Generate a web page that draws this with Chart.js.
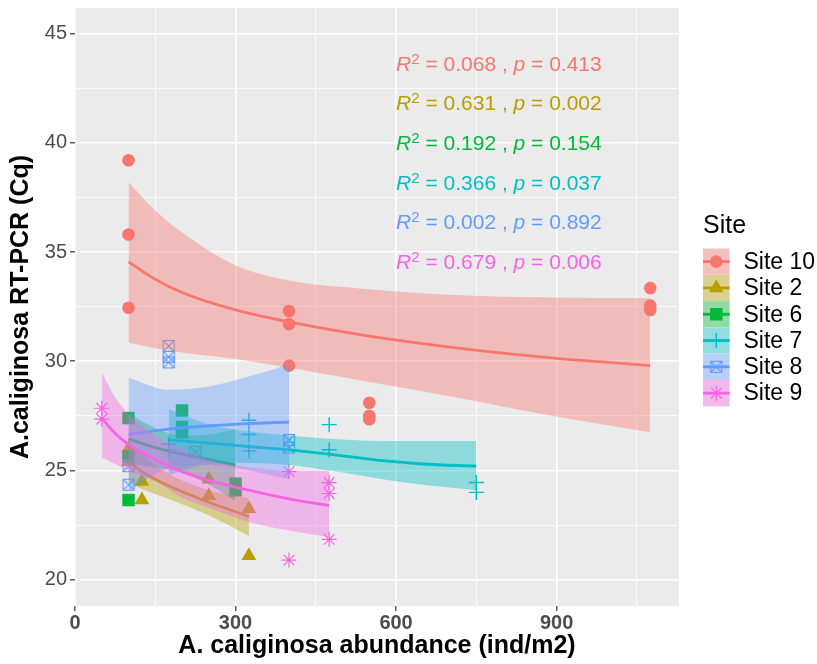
<!DOCTYPE html>
<html><head><meta charset="utf-8">
<script src="https://cdn.jsdelivr.net/npm/chart.js@4.4.1/dist/chart.umd.min.js"></script>
<style>html,body{margin:0;padding:0;background:#fff;}#wrap{width:817px;height:664px;position:relative;}</style>
</head><body><div id="wrap"><canvas id="c"></canvas></div>
<script>
// ---------- categories ----------
const sites = ['Site 10','Site 2','Site 6','Site 7','Site 8','Site 9'];
const siteColors = ['#F8766D','#B79F00','#00BA38','#00BFC4','#619CFF','#F564E3'];

// ---------- ticks ----------
const xMajor = [0,300,600,900];
const xMinor = [150,450,750,1050];
const yMajor = [20,25,30,35,40,45];
const yMinor = [22.5,27.5,32.5,37.5,42.5];

// ---------- observed points ----------
const site10X = [100,100,100,400,400,400,550,550,550,1075,1075,1075];
const site10Y = [39.2,35.8,32.45,32.3,31.7,29.8,28.1,27.5,27.35,33.35,32.55,32.35];
const site2X  = [100,100,125,125,250,250,325,325];
const site2Y  = [26.0,25.4,24.5,23.65,24.6,23.85,23.25,21.1];
const site6X  = [100,100,100,200,200,200,300,300];
const site6Y  = [27.4,25.65,23.65,27.75,27.0,26.75,24.4,24.1];
const site7X  = [175,175,325,325,325,475,475,750,750];
const site7Y  = [26.2,25.95,27.3,26.65,25.9,27.1,25.95,24.45,24.0];
const site8X  = [100,100,175,175,175,225,400,400];
const site8Y  = [25.2,24.35,30.7,30.2,29.95,25.85,26.4,26.05];
const site9X  = [50,50,400,400,475,475,475];
const site9Y  = [27.85,27.35,24.95,20.9,24.45,23.95,21.85];

// ---------- fitted curves ----------
const fit10X  = [100,150,200,300,400,550,700,870,1075];
const fit10Y  = [34.55,33.75,33.15,32.35,31.8,31.15,30.65,30.2,29.8];
const fit10Lo = [30.85,30.6,30.4,30.1,29.7,29.05,28.4,27.6,26.75];
const fit10Hi = [38.2,36.9,35.9,34.4,33.7,33.3,33.05,32.93,32.88];

const fit2X  = [100,125,175,250,325];
const fit2Y  = [25.4,24.95,24.3,23.55,22.9];
const fit2Lo = [24.5,24.15,23.7,22.95,22.0];
const fit2Hi = [26.4,25.75,24.85,24.1,23.75];

const fit6X  = [100,150,200,250,300];
const fit6Y  = [26.45,26.05,25.75,25.5,25.25];
const fit6Lo = [25.3,25.15,24.9,24.35,23.6];
const fit6Hi = [27.6,26.95,26.6,26.65,26.9];

const fit7X  = [175,250,325,400,475,575,650,750];
const fit7Y  = [26.4,26.25,26.1,25.95,25.75,25.45,25.3,25.2];
const fit7Lo = [24.8,25.3,25.35,25.25,25.0,24.6,24.35,24.1];
const fit7Hi = [27.8,27.1,26.8,26.6,26.45,26.35,26.35,26.35];

const fit8X  = [100,175,250,325,400];
const fit8Y  = [26.65,26.9,27.05,27.15,27.22];
const fit8Lo = [24.05,25.1,25.25,25.0,24.6];
const fit8Hi = [29.25,28.7,28.85,29.3,29.85];

const fit9X  = [50,75,100,150,200,250,325,400,475];
const fit9Y  = [27.4,26.7,26.2,25.5,24.95,24.55,24.1,23.7,23.4];
const fit9Lo = [25.6,25.3,25.0,24.5,23.75,23.3,22.65,22.25,21.95];
const fit9Hi = [29.5,28.35,27.6,26.6,26.0,25.5,25.15,25.0,25.0];

// ---------- statistics labels ----------
const statR2 = ['0.068','0.631','0.192','0.366','0.002','0.679'];
const statP  = ['0.413','0.002','0.154','0.037','0.892','0.006'];

// ---------- assemble ----------
const pointX = [site10X,site2X,site6X,site7X,site8X,site9X];
const pointY = [site10Y,site2Y,site6Y,site7Y,site8Y,site9Y];
const fitX  = [fit10X,fit2X,fit6X,fit7X,fit8X,fit9X];
const fitY  = [fit10Y,fit2Y,fit6Y,fit7Y,fit8Y,fit9Y];
const fitLo = [fit10Lo,fit2Lo,fit6Lo,fit7Lo,fit8Lo,fit9Lo];
const fitHi = [fit10Hi,fit2Hi,fit6Hi,fit7Hi,fit8Hi,fit9Hi];

const FONT = "'Liberation Sans', Arial, sans-serif";
Chart.defaults.font.family = FONT;

function rgba(hex, a){
  const n = parseInt(hex.slice(1),16);
  return `rgba(${(n>>16)&255},${(n>>8)&255},${n&255},${a})`;
}
function pts(xs, ys){ return xs.map((x,i)=>({x:x, y:ys[i]})); }

// boxed X marker canvas (shape 7)
function boxX(color){
  const c = document.createElement('canvas'); c.width = 14; c.height = 14;
  const g = c.getContext('2d');
  g.strokeStyle = color; g.lineWidth = 1.1;
  g.strokeRect(1.5,1.5,11,11);
  g.beginPath(); g.moveTo(1.5,1.5); g.lineTo(12.5,12.5); g.moveTo(12.5,1.5); g.lineTo(1.5,12.5); g.stroke();
  return c;
}
const boxXImg = boxX(siteColors[4]);

const shapeStyle  = ['circle','triangle','rect','cross',boxXImg,'star'];
const shapeRadius = [6.3,8.5,8.8,7.5,7,7.5];
const shapeBorder = [0,0,0,1.4,0,1.2];

const datasets = [];
let seq = 0;
sites.forEach((s,i)=>{
  datasets.push({
    type:'scatter', label:s, data: pts(pointX[i], pointY[i]),
    pointStyle: shapeStyle[i], pointRadius: shapeRadius[i], pointHoverRadius: shapeRadius[i],
    backgroundColor: siteColors[i], borderColor: siteColors[i], borderWidth: shapeBorder[i],
    order: 1000 - (seq++)
  });
});
sites.forEach((s,i)=>{
  datasets.push({
    type:'line', label:s+' lo', data: pts(fitX[i], fitLo[i]),
    borderWidth:0, borderColor:'rgba(0,0,0,0)', pointRadius:0, fill:false,
    cubicInterpolationMode:'monotone', order: 1000 - (seq++)
  });
  datasets.push({
    type:'line', label:s+' hi', data: pts(fitX[i], fitHi[i]),
    borderWidth:0, borderColor:'rgba(0,0,0,0)', pointRadius:0, fill:'-1',
    backgroundColor: rgba(siteColors[i],0.4),
    cubicInterpolationMode:'monotone', order: 1000 - (seq++)
  });
  datasets.push({
    type:'line', label:s+' fit', data: pts(fitX[i], fitY[i]),
    borderWidth:2.8, borderColor: siteColors[i], pointRadius:0, fill:false,
    cubicInterpolationMode:'monotone', order: 1000 - (seq++)
  });
});

// ---------- plugins ----------
const panelBg = {
  id:'panelBg',
  beforeDraw(chart){
    const {ctx, chartArea:a} = chart;
    ctx.save(); ctx.fillStyle = '#EBEBEB';
    ctx.fillRect(a.left, a.top, a.right-a.left, a.bottom-a.top);
    ctx.restore();
  }
};

const statText = {
  id:'statText',
  afterDatasetsDraw(chart){
    const {ctx, scales:{x, y}} = chart;
    ctx.save();
    ctx.textBaseline = 'alphabetic'; ctx.textAlign = 'left';
    sites.forEach((s,i)=>{
      let px = x.getPixelForValue(600);
      const py = y.getPixelForValue(43.3 - i*1.813);
      ctx.fillStyle = siteColors[i];
      const parts = [
        ['italic 21px '+FONT,'R',0],
        ['15px '+FONT,'2',-7],
        ['21px '+FONT,' = '+statR2[i]+' , ',0],
        ['italic 21px '+FONT,'p',0],
        ['21px '+FONT,' = '+statP[i],0]
      ];
      parts.forEach(([f,t,dy])=>{
        ctx.font = f; ctx.fillText(t, px, py+dy); px += ctx.measureText(t).width;
      });
    });
    ctx.restore();
  }
};

function drawMarker(ctx, i, cx, cy){
  const col = siteColors[i];
  ctx.save();
  ctx.fillStyle = col; ctx.strokeStyle = col;
  ctx.beginPath();
  if (i===0){ ctx.arc(cx,cy,6.3,0,Math.PI*2); ctx.fill(); }
  else if (i===1){ const r=8.5; for(let k=0;k<3;k++){const a=k*2*Math.PI/3; const X=cx+Math.sin(a)*r, Y=cy-Math.cos(a)*r; k?ctx.lineTo(X,Y):ctx.moveTo(X,Y);} ctx.closePath(); ctx.fill(); }
  else if (i===2){ const h=8.8*Math.SQRT1_2; ctx.fillRect(cx-h,cy-h,2*h,2*h); }
  else if (i===3){ ctx.lineWidth=1.4; ctx.moveTo(cx-7.5,cy); ctx.lineTo(cx+7.5,cy); ctx.moveTo(cx,cy-7.5); ctx.lineTo(cx,cy+7.5); ctx.stroke(); }
  else if (i===4){ ctx.drawImage(boxXImg, cx-7, cy-7); }
  else { ctx.lineWidth=1.2; const r=7.5; for(let k=0;k<4;k++){const a=k*Math.PI/4; ctx.moveTo(cx-Math.cos(a)*r, cy-Math.sin(a)*r); ctx.lineTo(cx+Math.cos(a)*r, cy+Math.sin(a)*r);} ctx.stroke(); }
  ctx.restore();
}

const siteLegend = {
  id:'siteLegend',
  afterDraw(chart){
    const ctx = chart.ctx;
    const left = 703, top = 248.5, kw = 26.6, kh = 26.3;
    ctx.save();
    ctx.fillStyle = '#000'; ctx.font = '25px '+FONT; ctx.textBaseline='alphabetic'; ctx.textAlign='left';
    ctx.fillText('Site', left, 233);
    sites.forEach((s,i)=>{
      const y0 = top + i*kh;
      ctx.fillStyle = '#F2F2F2'; ctx.fillRect(left, y0, kw, kh);
      ctx.fillStyle = rgba(siteColors[i],0.4); ctx.fillRect(left, y0, kw, kh);
      ctx.strokeStyle = siteColors[i]; ctx.lineWidth = 2.8;
      ctx.beginPath(); ctx.moveTo(left, y0+kh/2); ctx.lineTo(left+kw, y0+kh/2); ctx.stroke();
      drawMarker(ctx, i, left+kw/2, y0+kh/2);
      ctx.fillStyle = '#000'; ctx.font = '23px '+FONT; ctx.textBaseline='middle';
      ctx.fillText(s, 743.5, y0+kh/2+1);
    });
    ctx.restore();
  }
};

const isMajorX = v => xMajor.indexOf(v) >= 0;
const isMajorY = v => yMajor.indexOf(v) >= 0;

new Chart(document.getElementById('c'), {
  type:'scatter',
  data:{ datasets },
  plugins:[panelBg, statText, siteLegend],
  options:{
    responsive:true, maintainAspectRatio:false, animation:false, events:[],
    layout:{ padding:{left:0, top:8, right:138, bottom:0}, autoPadding:false },
    plugins:{ legend:{display:false}, tooltip:{enabled:false} },
    scales:{
      x:{
        type:'linear', min:0, max:1128.75,
        afterBuildTicks: s => { s.ticks = xMajor.concat(xMinor).sort((a,b)=>a-b).map(v=>({value:v})); },
        afterFit: s => { s.height = 58; s.paddingLeft = 0; s.paddingRight = 0; },
        ticks:{ callback: v => isMajorX(v) ? String(v) : '', font:{size:20, weight:'bold'}, color:'#4D4D4D', padding:0, maxRotation:0, autoSkip:false },
        grid:{ color:'#FFFFFF', lineWidth: c => (c.tick && isMajorX(c.tick.value)) ? 1.6 : 0.8,
               drawTicks:true, tickLength:5, tickWidth:1.2,
               tickColor: c => (c.tick && isMajorX(c.tick.value)) ? '#333333' : 'rgba(0,0,0,0)' },
        border:{display:false},
        title:{display:true, text:'A. caliginosa abundance (ind/m2)', color:'#000', font:{size:25, weight:'bold'}, padding:{top:0, bottom:3}}
      },
      y:{
        type:'linear', min:18.8, max:46.17,
        afterBuildTicks: s => { s.ticks = yMajor.concat(yMinor).sort((a,b)=>a-b).map(v=>({value:v})); },
        afterFit: s => { s.width = 75; s.paddingTop = 0; s.paddingBottom = 0; },
        ticks:{ callback: v => isMajorY(v) ? String(v) : '', font:{size:20}, color:'#4D4D4D', padding:3, autoSkip:false },
        grid:{ color:'#FFFFFF', lineWidth: c => (c.tick && isMajorY(c.tick.value)) ? 1.6 : 0.8,
               drawTicks:true, tickLength:5, tickWidth:1.2,
               tickColor: c => (c.tick && isMajorY(c.tick.value)) ? '#333333' : 'rgba(0,0,0,0)' },
        border:{display:false},
        title:{display:true, text:'A.caliginosa RT-PCR (Cq)', color:'#000', font:{size:25, weight:'bold'}, padding:{top:6, bottom:0}}
      }
    }
  }
});
</script></body></html>
